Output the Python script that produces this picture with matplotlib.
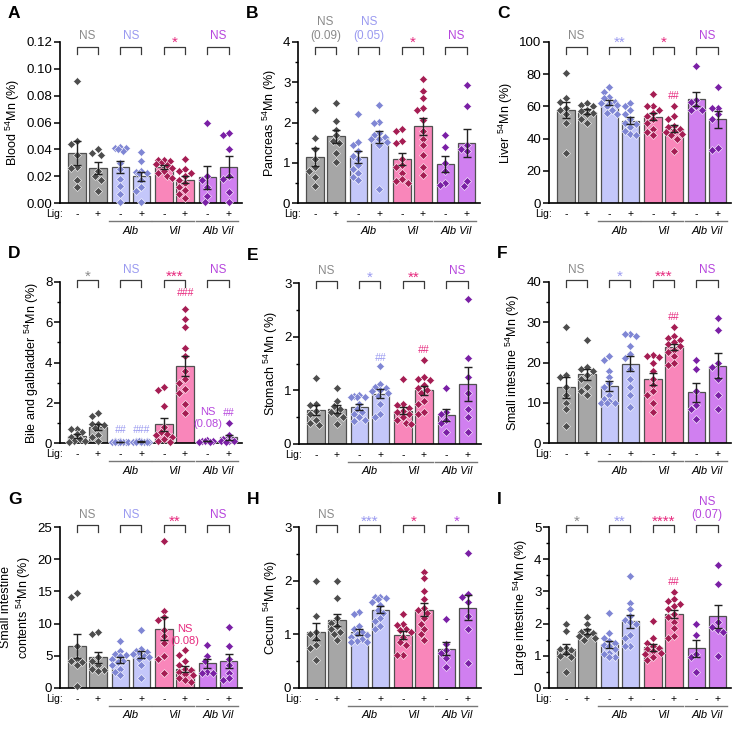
import numpy as np
import matplotlib.pyplot as plt
from matplotlib.ticker import MultipleLocator

plt.rcParams['font.family'] = ['Liberation Sans', 'DejaVu Sans']
plt.rcParams['mathtext.fontset'] = 'custom'
plt.rcParams['mathtext.rm'] = 'Liberation Sans'
plt.rcParams['mathtext.it'] = 'Liberation Sans:italic'

# bar order: WT -/+, Alb -/+, Vil -/+, Alb Vil -/+
lig = ['-', '+'] * 4
group_names = ['', 'Alb', 'Vil', 'Alb Vil']

bar_colors = ['#a6a6a6', '#c4c7fa', '#f986ba', '#d07ff0']
dot_colors = ['#4d4d4d', '#7f86d4', '#a51d53', '#7a1fa5']
text_colors = ['#8a8a8a', '#9a9af0', '#e6287d', '#b646dd']

blood = [[0.091, 0.046, 0.044, 0.036, 0.027, 0.026, 0.017, 0.012],
         [0.040, 0.037, 0.036, 0.024, 0.020, 0.017, 0.009],
         [0.041, 0.042, 0.041, 0.039, 0.040, 0.030, 0.025, 0.018, 0.013, 0.007, 0.001],
         [0.038, 0.031, 0.024, 0.023, 0.022, 0.022, 0.017, 0.012, 0.009, 0.001],
         [0.032, 0.032, 0.031, 0.030, 0.029, 0.028, 0.026, 0.024, 0.022, 0.020, 0.019],
         [0.033, 0.025, 0.024, 0.022, 0.020, 0.017, 0.015, 0.012, 0.010, 0.007, 0.004],
         [0.060, 0.020, 0.017, 0.012, 0.005, 0.001],
         [0.052, 0.051, 0.040, 0.020, 0.018, 0.008, 0.001]]

pancreas = [[2.32, 1.62, 1.35, 1.10, 0.90, 0.80, 0.65, 0.42],
            [2.48, 2.03, 1.82, 1.68, 1.55, 1.48, 1.25, 1.02],
            [2.20, 1.52, 1.45, 1.30, 1.18, 1.10, 0.95, 0.85, 0.75, 0.65, 0.58],
            [2.43, 2.02, 2.00, 1.75, 1.68, 1.65, 1.60, 1.58, 1.52, 1.45, 0.35],
            [1.85, 1.80, 1.55, 1.50, 1.10, 0.95, 0.90, 0.75, 0.60, 0.55, 0.50],
            [3.08, 2.78, 2.62, 2.35, 2.30, 2.05, 1.80, 1.60, 1.45, 1.20, 0.90, 0.70],
            [1.70, 1.40, 1.00, 0.80, 0.50, 0.45],
            [2.92, 2.42, 1.45, 1.35, 1.30, 0.55, 0.42]]

liver = [[80.5, 65, 63, 59, 58, 55, 50, 31],
         [62, 61, 60, 58, 57, 56, 55, 52, 50],
         [72, 69, 66, 65, 63, 62, 62, 61, 60, 58, 56, 55],
         [62, 60, 58, 55, 52, 50, 49, 47, 45, 43, 42],
         [68, 60, 60, 58, 56, 54, 52, 50, 46, 44, 42],
         [60, 54, 52, 48, 47, 46, 45, 44, 43, 42, 40, 32],
         [85, 64, 63, 60, 58, 58],
         [72, 59, 59, 55, 52, 34, 33]]

bile = [[0.72, 0.68, 0.55, 0.45, 0.30, 0.20, 0.10, 0.10, 0.05],
        [1.50, 1.32, 0.95, 0.95, 0.88, 0.75, 0.40, 0.30, 0.10],
        [0.10, 0.08, 0.07, 0.06, 0.05, 0.05, 0.04, 0.03, 0.03],
        [0.12, 0.10, 0.09, 0.08, 0.07, 0.06, 0.06, 0.05, 0.05, 0.04],
        [2.80, 2.65, 1.85, 0.80, 0.55, 0.45, 0.40, 0.30, 0.20, 0.10, 0.05],
        [6.65, 6.15, 5.75, 4.70, 4.30, 3.60, 3.20, 3.00, 2.70, 2.50, 1.95, 1.50],
        [0.15, 0.12, 0.10, 0.08, 0.06, 0.05],
        [1.00, 0.40, 0.20, 0.12, 0.10, 0.08, 0.05]]

stomach = [[1.23, 0.75, 0.72, 0.62, 0.55, 0.45, 0.40, 0.35],
           [1.05, 0.80, 0.70, 0.65, 0.60, 0.55, 0.50, 0.38],
           [0.92, 0.90, 0.88, 0.88, 0.87, 0.75, 0.65, 0.60, 0.55, 0.50, 0.45, 0.42],
           [1.45, 1.12, 1.06, 1.05, 1.00, 0.98, 0.95, 0.90, 0.75, 0.55, 0.50],
           [1.21, 0.75, 0.72, 0.68, 0.62, 0.60, 0.55, 0.50, 0.45, 0.40, 0.38],
           [1.57, 1.25, 1.22, 1.20, 1.10, 1.05, 1.00, 0.95, 0.80, 0.75, 0.60, 0.55],
           [1.05, 0.60, 0.55, 0.45, 0.40, 0.22],
           [2.70, 1.60, 1.25, 0.95, 0.65, 0.50, 0.22]]

small_int = [[28.8, 17, 16.5, 14, 12, 10, 8.5, 4.2],
             [25.7, 19, 18.5, 18, 17, 16, 14, 13, 12],
             [21.5, 20.5, 18, 16.5, 15, 14, 12, 11, 10.5, 10, 10, 10],
             [27, 27, 26.5, 24, 22, 21, 18.5, 16, 14, 12, 9],
             [21.8, 21.5, 21.3, 20, 18, 16, 14.5, 13, 12, 10, 7.8],
             [28.8, 26.5, 26, 25.5, 25, 24.5, 24, 23, 22.5, 21.5, 20, 19.5],
             [20.5, 18.5, 13, 9.5, 8.5, 6],
             [31, 28, 20, 19, 16, 12, 8.5]]

si_contents = [[14.7, 14.2, 6.5, 4.5, 4.2, 4.0, 3.5, 0.3],
               [8.7, 8.4, 4.8, 4.2, 3.5, 3.0, 2.8, 2.7],
               [7.3, 5.8, 5.3, 5.2, 5.0, 4.5, 4.2, 4.0, 3.5, 3.0, 2.5, 2.0],
               [9.0, 6.0, 5.8, 5.6, 5.5, 5.3, 5.0, 4.8, 4.5, 3.5, 1.5],
               [22.9, 12.0, 11.0, 10.5, 9.0, 8.0, 7.0, 5.0, 4.5, 2.4],
               [5.9, 5.2, 4.2, 3.5, 3.0, 2.8, 2.5, 2.2, 2.0, 1.5, 1.3, 1.0],
               [6.6, 5.0, 4.2, 2.5, 2.3, 2.3],
               [9.4, 6.5, 4.5, 3.5, 2.4, 1.5, 1.3]]

cecum = [[2.0, 1.35, 1.05, 1.0, 0.92, 0.80, 0.75, 0.52],
         [2.0, 1.67, 1.30, 1.22, 1.15, 1.10, 1.05, 1.00, 0.90],
         [1.42, 1.38, 1.15, 1.10, 1.05, 1.00, 0.98, 0.95, 0.92, 0.88, 0.85, 0.85],
         [1.70, 1.70, 1.68, 1.65, 1.60, 1.55, 1.45, 1.40, 1.30, 1.25, 1.15, 1.10],
         [1.38, 1.20, 1.18, 1.10, 1.08, 1.05, 0.95, 0.85, 0.80, 0.62, 0.62],
         [2.17, 2.05, 1.80, 1.65, 1.50, 1.45, 1.40, 1.30, 1.20, 1.10, 1.00, 0.90],
         [1.28, 0.82, 0.70, 0.65, 0.55, 0.40],
         [2.52, 1.75, 1.70, 1.60, 1.35, 1.10, 0.47]]

large_int = [[2.0, 1.78, 1.25, 1.20, 1.18, 1.10, 1.00, 0.95, 0.50],
             [2.20, 2.00, 1.80, 1.75, 1.70, 1.65, 1.60, 1.55, 1.50],
             [2.33, 1.70, 1.55, 1.45, 1.40, 1.35, 1.30, 1.20, 1.10, 1.05, 0.95, 0.95],
             [3.47, 2.63, 2.45, 2.25, 2.10, 2.05, 2.00, 1.65, 1.55, 1.30, 1.30],
             [2.07, 1.55, 1.40, 1.30, 1.25, 1.20, 1.15, 1.10, 1.05, 0.95, 0.88],
             [2.98, 2.75, 2.70, 2.62, 2.55, 2.45, 2.30, 2.20, 2.05, 1.85, 1.60, 1.55],
             [2.0, 1.65, 1.05, 0.95, 0.50],
             [3.83, 3.22, 2.05, 1.90, 1.80, 1.75, 1.00]]

# comparison labels for each pair (WT, Alb, Vil, Alb Vil)
sig_A = ['NS', 'NS', '*', 'NS']
sig_B = ['NS\n(0.09)', 'NS\n(0.05)', '*', 'NS']
sig_C = ['NS', '**', '*', 'NS']
sig_D = ['*', 'NS', '***', 'NS']
sig_E = ['NS', '*', '**', 'NS']
sig_F = ['NS', '*', '***', 'NS']
sig_G = ['NS', 'NS', '**', 'NS']
sig_H = ['NS', '***', '*', '*']
sig_I = ['*', '**', '****', 'NS\n(0.07)']

# extra labels over single bars: (bar, y, text)
extra_C = [(5, 66.5, '##')]
extra_D = [(2, 0.66, '##'), (3, 0.66, '###'), (5, 7.45, '###'),
           (6, 1.52, 'NS'), (6, 0.96, '(0.08)'), (7, 1.49, '##')]
extra_E = [(3, 1.61, '##'), (5, 1.75, '##')]
extra_F = [(5, 31.3, '##')]
extra_G = [(5, 9.16, 'NS'), (5, 7.36, '(0.08)')]
extra_I = [(5, 3.29, '##')]

W, H = 747, 733
fig = plt.figure(figsize=(W / 100, H / 100), dpi=100)

xpos = np.arange(8) + 0.065 * (np.arange(8) // 2)
ax_w, ax_h = 182, 161
unit = ax_w / (xpos[-1] + 0.64 + 0.8)


def swarm(vals, ymax, d=5.6):
    ys = np.asarray(vals, float) / ymax * ax_h
    order = np.argsort(-ys)
    placed = []
    xs = np.zeros(len(ys))
    cands = [0, -2.8, 2.8, -5.6, 5.6, -8.0, 8.0]
    for i in order:
        best, bestd = 0, -1
        for c in cands:
            dm = min([np.hypot(c - px, ys[i] - py) for px, py in placed], default=99)
            if dm >= d:
                best = c
                break
            if dm > bestd:
                bestd, best = dm, c
        xs[i] = best
        placed.append((best, ys[i]))
    return xs / unit


def panel(left, top, letter, data, ylabel, ymax, major, minor, sig, extra, row1):
    ax = fig.add_axes([left / W, (H - top - ax_h) / H, ax_w / W, ax_h / H])
    ax.set_xlim(-0.8, xpos[-1] + 0.64)
    ax.set_ylim(0, ymax)
    for i, vals in enumerate(data):
        g = i // 2
        v = np.asarray(vals)
        m = v.mean()
        se = v.std(ddof=1) / np.sqrt(len(v))
        ax.bar(xpos[i], m, width=0.83, color=bar_colors[g], edgecolor='#505050',
               linewidth=0.9, zorder=1)
        ax.plot(xpos[i] + swarm(v, ymax), v, 'D', ms=4.2, color=dot_colors[g],
                mec='white', mew=0.4, zorder=3, clip_on=False)
        ax.errorbar(xpos[i], m, yerr=se, color='#222222', lw=1, capsize=3,
                    capthick=1, zorder=4)
    ax.spines['top'].set_visible(False)
    ax.spines['right'].set_visible(False)
    ax.spines['left'].set_linewidth(1.2)
    ax.spines['bottom'].set_linewidth(1.2)
    ax.set_xticks([])
    ax.yaxis.set_major_locator(MultipleLocator(major))
    if minor:
        ax.yaxis.set_minor_locator(MultipleLocator(minor))
    ax.tick_params(axis='y', which='major', length=4, width=1.1, labelsize=9.5, pad=1.5)
    ax.tick_params(axis='y', which='minor', length=2.5, width=1.0)
    if major < 0.1:
        ax.set_yticklabels(['%.2f' % t for t in ax.get_yticks()])
    ax.set_ylabel(ylabel, fontsize=9, labelpad=3)

    # brackets and significance labels
    btop, bleg, tpos = (0.968, 0.925, 1.04) if row1 else (1.014, 0.968, 1.073)
    tr = ax.get_xaxis_transform()
    for g in range(4):
        x0, x1 = xpos[2 * g], xpos[2 * g + 1]
        ax.plot([x0, x0, x1, x1], [bleg, btop, btop, bleg], color='#3a3a3a',
                lw=0.9, transform=tr, clip_on=False)
        xc = (x0 + x1) / 2
        s = sig[g]
        if s.startswith('*'):
            ax.annotate(s, (xc, tpos), xycoords=tr, xytext=(0, -5),
                        textcoords='offset points', ha='center', va='center',
                        fontsize=11, color=text_colors[g])
        else:
            lines = s.split('\n')
            for k, ln in enumerate(reversed(lines)):
                ax.annotate(ln, (xc, tpos), xycoords=tr, xytext=(0, 9.6 * k),
                            textcoords='offset points', ha='center', va='center',
                            fontsize=8.5, color=text_colors[g])

    for i, y, s in extra:
        g = i // 2
        if s.startswith('#'):
            ax.text(xpos[i], y, s, ha='center', va='center', fontsize=7.5,
                    style='italic', color=text_colors[g])
        else:
            ax.text(xpos[i], y, s, ha='center', va='center', fontsize=8,
                    color=text_colors[g])

    # Lig row and genotype labels
    ax.annotate('Lig:', (-0.64, 0), xycoords=tr, xytext=(0, -8),
                textcoords='offset points', ha='right', va='center', fontsize=7.5)
    for i in range(8):
        ax.annotate(lig[i], (xpos[i], 0), xycoords=tr, xytext=(0, -8),
                    textcoords='offset points', ha='center', va='center', fontsize=7.5)
    for g in range(1, 4):
        x0, x1 = xpos[2 * g] - 0.55, xpos[2 * g + 1] + 0.45
        ax.plot([x0, x1], [-17.5 / ax_h, -17.5 / ax_h], color='#777777', lw=1,
                transform=tr, clip_on=False)
        ax.text((xpos[2 * g] + xpos[2 * g + 1]) / 2, -27.5 / ax_h, group_names[g],
                transform=tr, ha='center', va='center', fontsize=8, style='italic')

    fig.text((left - 52) / W, 1 - (top - 28) / H, letter, fontsize=12.5,
             fontweight='bold', ha='left', va='center')
    return ax


mn = '$^{54}$Mn (%)'
panel(60, 42, 'A', blood, 'Blood ' + mn, 0.12, 0.02, None, sig_A, [], True)
panel(298, 42, 'B', pancreas, 'Pancreas ' + mn, 4, 1, 0.5, sig_B, [], True)
panel(549, 42, 'C', liver, 'Liver ' + mn, 100, 20, None, sig_C, extra_C, True)
panel(60, 282, 'D', bile, 'Bile and galbladder ' + mn, 8, 2, 1, sig_D, extra_D, False)
panel(299, 283, 'E', stomach, 'Stomach ' + mn, 3, 1, 0.5, sig_E, extra_E, False)
panel(549, 282, 'F', small_int, 'Small intestine ' + mn, 40, 10, 5, sig_F, extra_F, False)
panel(60, 527, 'G', si_contents, 'Small intestine\ncontents ' + mn, 25, 5, None, sig_G, extra_G, False)
panel(299, 527, 'H', cecum, 'Cecum ' + mn, 3, 1, 0.5, sig_H, [], False)
panel(549, 527, 'I', large_int, 'Large intestine ' + mn, 5, 1, 0.5, sig_I, extra_I, False)

fig.savefig('out.png', dpi=100)
